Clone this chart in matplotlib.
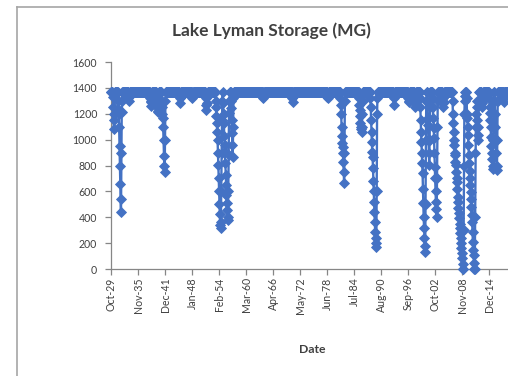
import matplotlib
matplotlib.use("Agg")
import matplotlib.pyplot as plt
import matplotlib.dates as mdates
from matplotlib.lines import Line2D
import pandas as pd
import numpy as np

# ---------------- data ----------------
title = "Lake Lyman Storage (MG)"
x_title = "Date"
y_ticks = [0, 200, 400, 600, 800, 1000, 1200, 1400, 1600]

series_start = "1929-10"
series_end = "2019-12"
full_level = 1365          # reservoir at spillway level (top band)

# drawdown events: (first month, monthly storage values in MG)
event_starts = [
    "1930-03", "1931-05", "1933-09", "1938-08", "1940-01", "1941-03",
    "1945-04", "1948-01", "1951-02", "1953-05", "1955-01", "1956-10",
    "1964-01", "1970-08", "1978-07", "1981-06", "1985-08", "1988-03",
    "1993-06", "1996-09", "1998-02", "1999-05", "2001-01", "2002-03",
    "2004-06", "2006-09", "2009-11", "2013-03", "2014-12", "2016-03",
    "2018-02",
]
event_values = [
    [1330, 1250, 1150, 1080, 1200, 1330],
    [1300, 1240, 1200, 1100, 950, 800, 660, 540, 440, 900, 1210, 1300],
    [1320, 1300, 1330],
    [1320, 1290, 1260, 1300, 1340],
    [1300, 1270, 1250, 1220, 1210, 1260, 1300],
    [1300, 1250, 1200, 1167, 1100, 1000, 873, 800, 750, 1000, 1300],
    [1320, 1283, 1330],
    [1330, 1320, 1345],
    [1320, 1270, 1230, 1280, 1330],
    [1300, 1250, 1180, 1128, 1060, 997, 900, 804, 700, 600, 500, 425, 340,
     317, 360, 600, 900, 1150, 1300],
    [1280, 1200, 1130, 1028, 960, 905, 820, 727, 650, 572, 510, 456, 400,
     379, 600, 881, 1206, 1300],
    [1300, 1245, 1150, 1050, 960, 866, 1100, 1320],
    [1330, 1320, 1345],
    [1320, 1290, 1330],
    [1330, 1320, 1345],
    [1320, 1268, 1200, 1100, 1030, 974, 943, 900, 827, 750, 665, 900, 1300],
    [1320, 1268, 1230, 1180, 1130, 1100, 1080, 1059, 1100, 1200, 1300],
    [1320, 1250, 1150, 1059, 980, 904, 866, 780, 680, 600, 518, 440, 360,
     286, 240, 200, 170, 600, 1200, 1320],
    [1330, 1268, 1320],
    [1320, 1290, 1300, 1340],
    [1320, 1280, 1250, 1300, 1340],
    [1320, 1250, 1150, 1059, 980, 897, 820, 742, 620, 510, 400, 320, 240,
     180, 131, 500, 1000, 1300],
    [1300, 1167, 1113, 1000, 900, 804, 1000, 1250],
    [1320, 1250, 1167, 1090, 1013, 900, 788, 700, 600, 520, 460, 402, 700,
     1100, 1300],
    [1320, 1280, 1250, 1290, 1340],
    [1300, 1200, 1130, 1060, 1000, 960, 900, 880, 830, 804, 750, 700, 672,
     620, 560, 518, 470, 430, 394, 350, 317, 280, 240, 200, 162, 120, 85,
     40, 0, 0, 300, 800, 1200, 1300, 1340],
    [1320, 1200, 1167, 1100, 1036, 960, 881, 819, 760, 700, 649, 595, 540,
     479, 420, 360, 286, 209, 150, 108, 50, 0, 0, 400, 900, 1100, 1200,
     1300, 1250, 1150, 1036, 1000, 1100, 1300],
    [1320, 1280, 1250, 1300, 1340],
    [1320, 1250, 1206, 1150, 1100, 1020, 950, 900, 850, 800, 770, 1000, 1300],
    [1300, 1200, 1100, 1000, 900, 800, 765, 1000, 1300],
    [1320, 1290, 1330],
]

# ---------------- build series ----------------
dates = pd.date_range(series_start, series_end, freq="MS")
storage = pd.Series(float(full_level), index=dates)
for start, vals in zip(event_starts, event_values):
    idx = pd.date_range(start, periods=len(vals), freq="MS")
    storage.loc[idx] = vals

tick_dates = pd.date_range("1929-10-01", periods=15, freq="73MS")

# ---------------- figure ----------------
W, H = 508, 376
fig = plt.figure(figsize=(W / 100, H / 100), dpi=100)
plt.rcParams["font.family"] = ["Lato", "DejaVu Sans"]

ax_left, ax_right = 111, 513.6
ax_bottom, ax_top = 269, 62
ax = fig.add_axes([ax_left / W, 1 - ax_bottom / H,
                   (ax_right - ax_left) / W, (ax_bottom - ax_top) / H])

blue = "#4472C4"
ax.plot(storage.index, storage.values, color=blue, lw=1.7,
        marker="D", markersize=4.6, markeredgewidth=0.6,
        markerfacecolor=blue, markeredgecolor=blue, clip_on=False, zorder=3)

ax.set_xlim(pd.Timestamp("1929-10-01"), pd.Timestamp("2020-06-01"))
ax.set_ylim(0, 1600)
ax.set_yticks(y_ticks)
ax.set_xticks(tick_dates)
ax.xaxis.set_major_formatter(mdates.DateFormatter("%b-%y"))

for s in ["top", "right"]:
    ax.spines[s].set_visible(False)
for s in ["left", "bottom"]:
    ax.spines[s].set_color("#868686")
    ax.spines[s].set_linewidth(0.9)

ax.tick_params(axis="both", direction="out", length=4, width=0.9,
               color="#868686", labelsize=7.6, labelcolor="#404040")
ax.tick_params(axis="y", pad=6)
ax.tick_params(axis="x", pad=2)
for lab in ax.get_xticklabels():
    lab.set_rotation(90)
    lab.set_ha("center")
    lab.set_va("top")

ax.set_xlabel(x_title, fontsize=8.8, fontweight="bold", color="#404040",
              labelpad=22)
fig.text(271.5 / W, 1 - 31 / H, title, ha="center", va="center",
         fontsize=12.5, fontweight="bold", color="#404040")

# chart area border (right/bottom lie outside the image)
fig.add_artist(Line2D([17 / W, 17 / W], [1 - 7 / H, 0], transform=fig.transFigure,
                      color="#a6a6a6", lw=1.2))
fig.add_artist(Line2D([17 / W, 1], [1 - 7 / H, 1 - 7 / H], transform=fig.transFigure,
                      color="#a6a6a6", lw=1.2))

fig.savefig("out.png", dpi=100)
